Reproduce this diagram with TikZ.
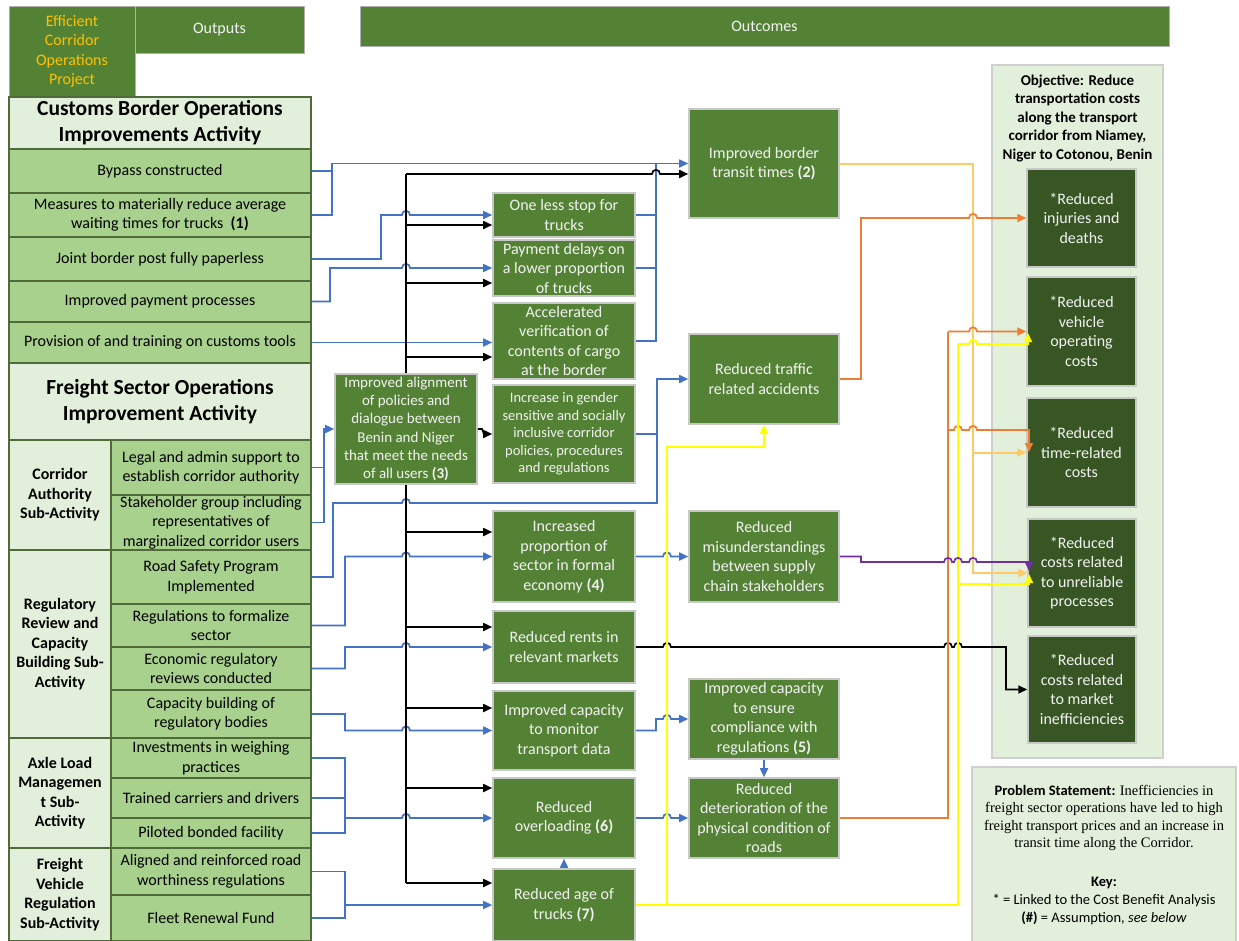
\documentclass[tikz,border=0pt]{standalone}
\usepackage{fontspec}
\setmainfont{Carlito}
\newfontfamily\tnr{Liberation Serif}
\usetikzlibrary{arrows.meta}
\definecolor{itemG}{HTML}{A9D18E}
\definecolor{lightG}{HTML}{E2EFDA}
\definecolor{midG}{HTML}{548235}
\definecolor{darkG}{HTML}{375623}
\definecolor{itemB}{HTML}{4F6B3A}
\definecolor{midB}{HTML}{C8C8C8}
\definecolor{hdrB}{HTML}{B0B0B0}
\definecolor{panelB}{HTML}{CFCFCF}
\definecolor{midT}{HTML}{F2F2F2}
\definecolor{gold}{HTML}{FFC000}
\definecolor{cBlue}{HTML}{4472C4}
\definecolor{cOrange}{HTML}{ED7D31}
\definecolor{cLOrange}{HTML}{FFC966}
\definecolor{cYellow}{HTML}{FFFF00}
\definecolor{cPurple}{HTML}{7030A0}
\newcommand{\fs}[2]{\fontsize{#1}{#2}\selectfont}
\newcommand{\bx}[7]{\node[#2, minimum width={#5-#3}, minimum height={#6-#4}] (#1) at ({(#3+#5)/2},{(#4+#6)/2}) {#7};}
\newcommand{\lj}[2]{-- ({#1-4},#2) .. controls ({#1-4},{#2-5.5}) and ({#1+4},{#2-5.5}) .. ({#1+4},#2)}
\begin{document}
\begin{tikzpicture}[x=1pt,y=-1pt,
  every node/.style={inner sep=0pt, align=center},
  item/.style={fill=itemG, draw=itemB, line width=1.2pt, font=\fs{16}{19.5}},
  lhead/.style={fill=lightG, draw=itemB, line width=1.2pt, font=\bfseries\fs{21.5}{26}},
  sublab/.style={fill=lightG, draw=itemB, line width=1.2pt, font=\bfseries\fs{16}{19.5}},
  mid/.style={fill=midG, draw=midB, line width=1.6pt, text=midT, font=\fs{16}{19.5}},
  midmed/.style={mid, font=\fs{15}{18.3}},
  midsmall/.style={mid, font=\fs{14.5}{17.5}},
  hdr/.style={fill=midG, draw=hdrB, line width=1pt, text=midT, font=\fs{16}{19.5}},
  dark/.style={fill=darkG, draw=midB, line width=1.5pt, text=midT, font=\fs{16}{19.5}},
  panel/.style={fill=lightG, draw=panelB, line width=1.5pt},
  arr/.style={-{Triangle[length=9pt,width=8pt]}},
  lblue/.style={draw=cBlue, line width=1.7pt},
  lblack/.style={draw=black, line width=1.7pt},
  lorange/.style={draw=cOrange, line width=1.7pt},
  llo/.style={draw=cLOrange, line width=2pt},
  lyel/.style={draw=cYellow, line width=2pt},
  lpur/.style={draw=cPurple, line width=1.7pt}]
\fill[white] (0,0) rectangle (1239,940);
\useasboundingbox (0,0) rectangle (1239,940);
% headers
\bx{proj}{hdr, text=gold}{9}{6}{135}{97}{\raisebox{-2pt}{\parbox{120pt}{\centering Efficient\\Corridor\\Operations\\Project}}}
\bx{outputs}{hdr}{135}{6}{304}{53}{Outputs}
\bx{outcomes}{hdr}{360}{6}{1169}{46}{Outcomes}
% left column
\bx{cbo}{lhead}{9}{97}{311}{149}{Customs Border Operations\\Improvements Activity}
\bx{bypass}{item}{9}{149}{311}{193}{Bypass constructed}
\bx{measures}{item}{9}{193}{311}{237}{Measures to materially reduce average\\waiting times for trucks\ \ \textbf{(1)}}
\bx{joint}{item}{9}{237}{311}{281}{Joint border post fully paperless}
\bx{payproc}{item}{9}{281}{311}{322}{Improved payment processes}
\bx{provision}{item}{9}{322}{311}{363}{Provision of and training on customs tools}
\bx{fso}{lhead}{9}{363}{311}{440}{Freight Sector Operations\\Improvement Activity}
\bx{cas}{sublab}{9}{440}{111}{550}{Corridor\\Authority\\Sub-Activity}
\bx{legal}{item}{111}{440}{311}{495}{Legal and admin support to\\establish corridor authority}
\bx{stake}{item}{111}{495}{311}{550}{Stakeholder group including\\representatives of\\marginalized corridor users}
\bx{rrc}{sublab}{9}{550}{111}{738}{Regulatory\\Review and\\Capacity\\Building Sub-\\Activity}
\bx{roadsafety}{item}{111}{550}{311}{604}{Road Safety Program\\Implemented}
\bx{regform}{item}{111}{604}{311}{647}{Regulations to formalize\\sector}
\bx{econ}{item}{111}{647}{311}{690}{Economic regulatory\\reviews conducted}
\bx{capbuild}{item}{111}{690}{311}{738}{Capacity building of\\regulatory bodies}
\bx{alm}{sublab}{9}{738}{111}{848}{Axle Load\\Managemen\\t Sub-\\Activity}
\bx{invest}{item}{111}{738}{311}{778}{Investments in weighing\\practices}
\bx{trained}{item}{111}{778}{311}{818}{Trained carriers and drivers}
\bx{piloted}{item}{111}{818}{311}{848}{Piloted bonded facility}
\bx{fvr}{sublab}{9}{848}{111}{941}{Freight\\Vehicle\\Regulation\\Sub-Activity}
\bx{aligned}{item}{111}{848}{311}{895}{Aligned and reinforced road\\worthiness regulations}
\bx{fleet}{item}{111}{895}{311}{941}{Fleet Renewal Fund}
% middle column 1
\bx{onestop}{mid}{493}{193}{635}{237}{One less stop for\\trucks}
\bx{paydelay}{mid}{493}{240}{635}{296}{Payment delays on\\a lower proportion\\of trucks}
\bx{accel}{mid}{493}{303}{635}{379}{Accelerated\\verification of\\contents of cargo\\at the border}
\bx{gender}{midsmall}{493}{385}{635}{483}{Increase in gender\\sensitive and socially\\inclusive corridor\\policies, procedures\\and regulations}
\bx{align}{midmed}{335}{374}{477}{484}{Improved alignment\\of policies and\\dialogue between\\Benin and Niger\\that meet the needs\\of all users \textbf{(3)}}
\bx{incprop}{mid}{493}{511}{635}{602}{Increased\\proportion of\\sector in formal\\economy \textbf{(4)}}
\bx{rents}{mid}{493}{611}{635}{683}{Reduced rents in\\relevant markets}
\bx{monitor}{mid}{493}{691}{635}{770}{Improved capacity\\to monitor\\transport data}
\bx{overload}{mid}{493}{778}{635}{858}{Reduced\\overloading \textbf{(6)}}
\bx{age}{mid}{493}{869}{635}{941}{Reduced age of\\trucks \textbf{(7)}}
% middle column 2
\bx{ibt}{mid}{689}{109}{839}{218}{Improved border\\transit times \textbf{(2)}}
\bx{traffic}{mid}{689}{334}{839}{424}{Reduced traffic\\related accidents}
\bx{misund}{mid}{689}{511}{839}{602}{Reduced\\misunderstandings\\between supply\\chain stakeholders}
\bx{compliance}{mid}{689}{679}{839}{759}{Improved capacity\\to ensure\\compliance with\\regulations \textbf{(5)}}
\bx{deter}{mid}{689}{778}{839}{858}{Reduced\\deterioration of the\\physical condition of\\roads}
% objective panel
\bx{objpanel}{panel}{992}{65}{1163}{758}{}
\node[font=\bfseries\fs{15}{18.5}] (objtitle) at (1077.5,118) {Objective: Reduce\\transportation costs\\along the transport\\corridor from Niamey,\\Niger to Cotonou, Benin};
\bx{injuries}{dark}{1027}{169}{1136}{267}{*Reduced\\injuries and\\deaths}
\bx{vehop}{dark}{1027}{277}{1136}{386}{*Reduced\\vehicle\\operating\\costs}
\bx{timecost}{dark}{1027}{398}{1136}{507}{*Reduced\\time-related\\costs}
\bx{unrel}{dark}{1028}{519}{1136}{627}{*Reduced\\costs related\\to unreliable\\processes}
\bx{market}{dark}{1028}{636}{1136}{743}{*Reduced\\costs related\\to market\\inefficiencies}
% problem statement
\bx{problem}{panel}{972}{767}{1236}{945}{}
\node[font=\fs{14.5}{17.3}] (ptext) at (1104,818) {\textbf{Problem Statement:} {\tnr Inefficiencies in}\\{\tnr freight sector operations have led to high}\\{\tnr freight transport prices and an increase in}\\{\tnr transit time along the Corridor.}};
\node[font=\fs{14.5}{18}] (keytext) at (1104,901) {\textbf{Key:}\\* = Linked to the Cost Benefit Analysis\\\textbf{(\#)} = Assumption, \textit{see below}};
% ---------- blue connectors
\draw[lblue,arr] (bypass.east) -- (332,171) -- (332,163.5) -- (ibt.west);
\draw[lblue] (measures.east) -- (332,215) -- (332,163.5);
\draw[lblue,arr] (joint.east) -- (381,259) -- (381,215) \lj{406}{215} -- (onestop.west);
\draw[lblue,arr] (payproc.east) -- (330,301.5) -- (330,268) \lj{406}{268} -- (paydelay.west);
\draw[lblue,arr] (provision.east) -- (accel.west |- provision.east);
\draw[lblue] (onestop.east) -- (656,215);
\draw[lblue] (paydelay.east) -- (656,268);
\draw[lblue] (accel.east) -- (656,341) -- (656,163.5);
\draw[lblue,arr] (gender.east) -- (657,434) -- (657,379) -- (traffic.west);
\draw[lblue] (legal.east) -- (324,467.5) -- (324,429);
\draw[lblue,arr] (stake.east) -- (324,522.5) -- (324,429) -- (align.west);
\draw[lblue] (roadsafety.east) -- (333,577) -- (333,503) \lj{406}{503} -- (657,503) -- (657,434);
\draw[lblue,arr] (regform.east) -- (345,625.5) -- (345,556.5) \lj{406}{556.5} -- (incprop.west);
\draw[lblue,arr] (econ.east) -- (345,668.5) -- (345,647) \lj{406}{647} -- (rents.west);
\draw[lblue,arr] (capbuild.east) -- (345,714) -- (345,730.5) \lj{406}{730.5} -- (monitor.west);
\draw[lblue] (invest.east) -- (345,758) -- (345,833) -- (piloted.east);
\draw[lblue] (trained.east) -- (345,798);
\draw[lblue,arr] (345,818) \lj{406}{818} -- (overload.west);
\draw[lblue] (aligned.east) -- (345,871.5) -- (345,918) -- (fleet.east);
\draw[lblue,arr] (345,905) -- (age.west);
\draw[lblue,arr] (incprop.east) \lj{667}{556.5} -- (misund.west);
\draw[lblue,arr] (monitor.east) -- (656,730.5) -- (656,719) \lj{667}{719} -- (compliance.west);
\draw[lblue,arr] (overload.east) \lj{667}{818} -- (deter.west);
\draw[lblue,arr] (compliance.south) -- (deter.north);
\draw[lblue,arr] (age.north) -- (overload.south);
% ---------- black connectors
\draw[lblack] (align.north) -- (406,174);
\draw[lblack,arr] (406,174) \lj{656}{174} -- (ibt.west |- 0,174);
\draw[lblack,arr] (406,225) -- (onestop.west |- 0,225);
\draw[lblack,arr] (406,283) -- (paydelay.west |- 0,283);
\draw[lblack,arr] (406,357) -- (accel.west |- 0,357);
\draw[lblack,arr] (align.east) -- (482,429) -- (484,434) -- (gender.west);
\draw[lblack] (align.south) -- (406,883);
\draw[lblack,arr] (406,532) -- (incprop.west |- 0,532);
\draw[lblack,arr] (406,627) -- (rents.west |- 0,627);
\draw[lblack,arr] (406,708) -- (monitor.west |- 0,708);
\draw[lblack,arr] (406,788) -- (overload.west |- 0,788);
\draw[lblack,arr] (406,883) -- (age.west |- 0,883);
\draw[lblack,arr] (rents.east) \lj{667}{647} \lj{948}{647} \lj{958}{647} -- (1006,647) -- (1006,689.5) -- (market.west);
% ---------- light orange
\draw[llo,arr] (ibt.east) -- (973,163.5) -- (973,573) -- (unrel.west);
\draw[llo,arr] (973,452.5) -- (timecost.west);
% ---------- orange
\draw[lorange,arr] (traffic.east) -- (861,379) -- (861,218) \lj{973}{218} -- (injuries.west);
\draw[lorange] (deter.east) -- (948,818) -- (948,331.5);
\draw[lorange,arr] (948,331.5) \lj{973}{331.5} -- (vehop.west);
\draw[lorange,arr] (948,430) \lj{958}{430} \lj{973}{430} -- (1029,430) -- (1029,452);
% ---------- yellow
\draw[lyel] (age.east) -- (958,905);
\draw[lyel] (667,905) -- (667,447) -- (764,447);
\draw[lyel,arr] (764,447) -- (traffic.south);
\draw[lyel] (958,905) -- (958,344);
\draw[lyel,arr] (958,344) \lj{973}{344} -- (1028,344) -- (1028,333);
\draw[lyel,arr] (958,584) -- (1029,584) -- (1029,574);
% ---------- purple
\draw[lpur,arr] (misund.east) -- (861,556.5) -- (861,562) \lj{948}{562} \lj{958}{562} \lj{973}{562} -- (1029,562) -- (1029,571);
\end{tikzpicture}
\end{document}
